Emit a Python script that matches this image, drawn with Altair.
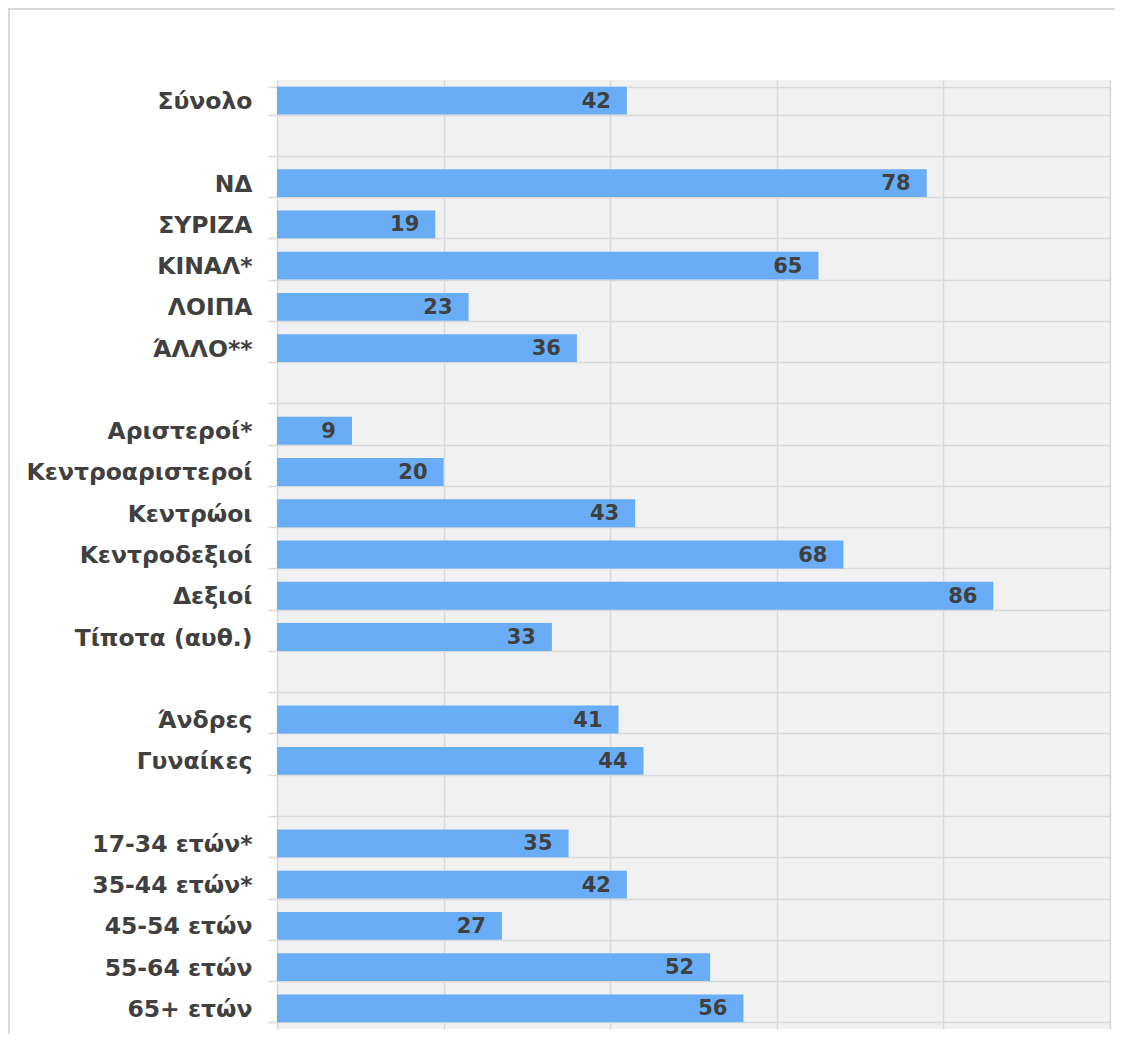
import altair as alt
import pandas as pd

categories = ["Σύνολο", " ", "ΝΔ", "ΣΥΡΙΖΑ", "ΚΙΝΑΛ*", "ΛΟΙΠΑ", "ΆΛΛΟ**", "  ",
              "Αριστεροί*", "Κεντροαριστεροί", "Κεντρώοι", "Κεντροδεξιοί", "Δεξιοί",
              "Τίποτα (αυθ.)", "   ", "Άνδρες", "Γυναίκες", "    ",
              "17-34 ετών*", "35-44 ετών*", "45-54 ετών", "55-64 ετών", "65+ ετών"]
values = [42, None, 78, 19, 65, 23, 36, None,
          9, 20, 43, 68, 86,
          33, None, 41, 44, None,
          35, 42, 27, 52, 56]
grid_values = [0, 20, 40, 60, 80, 100]

df = pd.DataFrame({"cat": categories, "val": values})

W, H = 833, 949
PAD_L, PAD_T = 269, 72
GRID = "#d9d9d9"
FONT = "DejaVu Sans"
TXT = "#404040"

y_enc = alt.Y("cat:N", sort=categories, title=None,
              scale=alt.Scale(paddingInner=0.325, paddingOuter=0.1625),
              axis=alt.Axis(tickBand="extent", grid=True, gridColor=GRID, gridWidth=1.5,
                            ticks=True, tickSize=9, tickColor=GRID, tickWidth=1.5,
                            domain=False, labelPadding=16, labelFont=FONT, labelLimit=400,
                            labelFontSize=23.5, labelFontWeight="bold", labelColor=TXT,
                            labelBaseline="middle", labelOffset=1))
x_enc = alt.X("val:Q", title=None, scale=alt.Scale(domain=[0, 100], nice=False),
              axis=alt.Axis(values=grid_values, labels=False, ticks=False, domain=False,
                            grid=True, gridColor=GRID, gridWidth=1.5))

base = alt.Chart(df)
bars = base.mark_bar(color="#69adf6").encode(x=x_enc, y=y_enc)
labels = base.mark_text(align="right", baseline="middle", dx=-16, dy=1, font=FONT,
                        fontSize=21, fontWeight="bold", color=TXT).encode(
    x="val:Q", y=alt.Y("cat:N", sort=categories), text="val:Q")

frame_data = alt.Data(values=[{"k": 0}])
top_line = alt.Chart(frame_data).mark_rule(color=GRID, strokeWidth=2).encode(
    x=alt.value(-269), x2=alt.value(860), y=alt.value(-71))
left_line = alt.Chart(frame_data).mark_rule(color=GRID, strokeWidth=2).encode(
    x=alt.value(-268), y=alt.value(-72), y2=alt.value(980))

chart = alt.layer(bars, labels, top_line, left_line).properties(
    width=W, height=H,
    autosize=alt.AutoSizeParams(type="none"),
    padding={"left": PAD_L, "top": PAD_T, "right": 5, "bottom": 5},
    background="white",
).configure_view(fill="#f1f1f1", stroke=None)

chart.save("out.html", embed_options={"renderer": "svg", "actions": False})
